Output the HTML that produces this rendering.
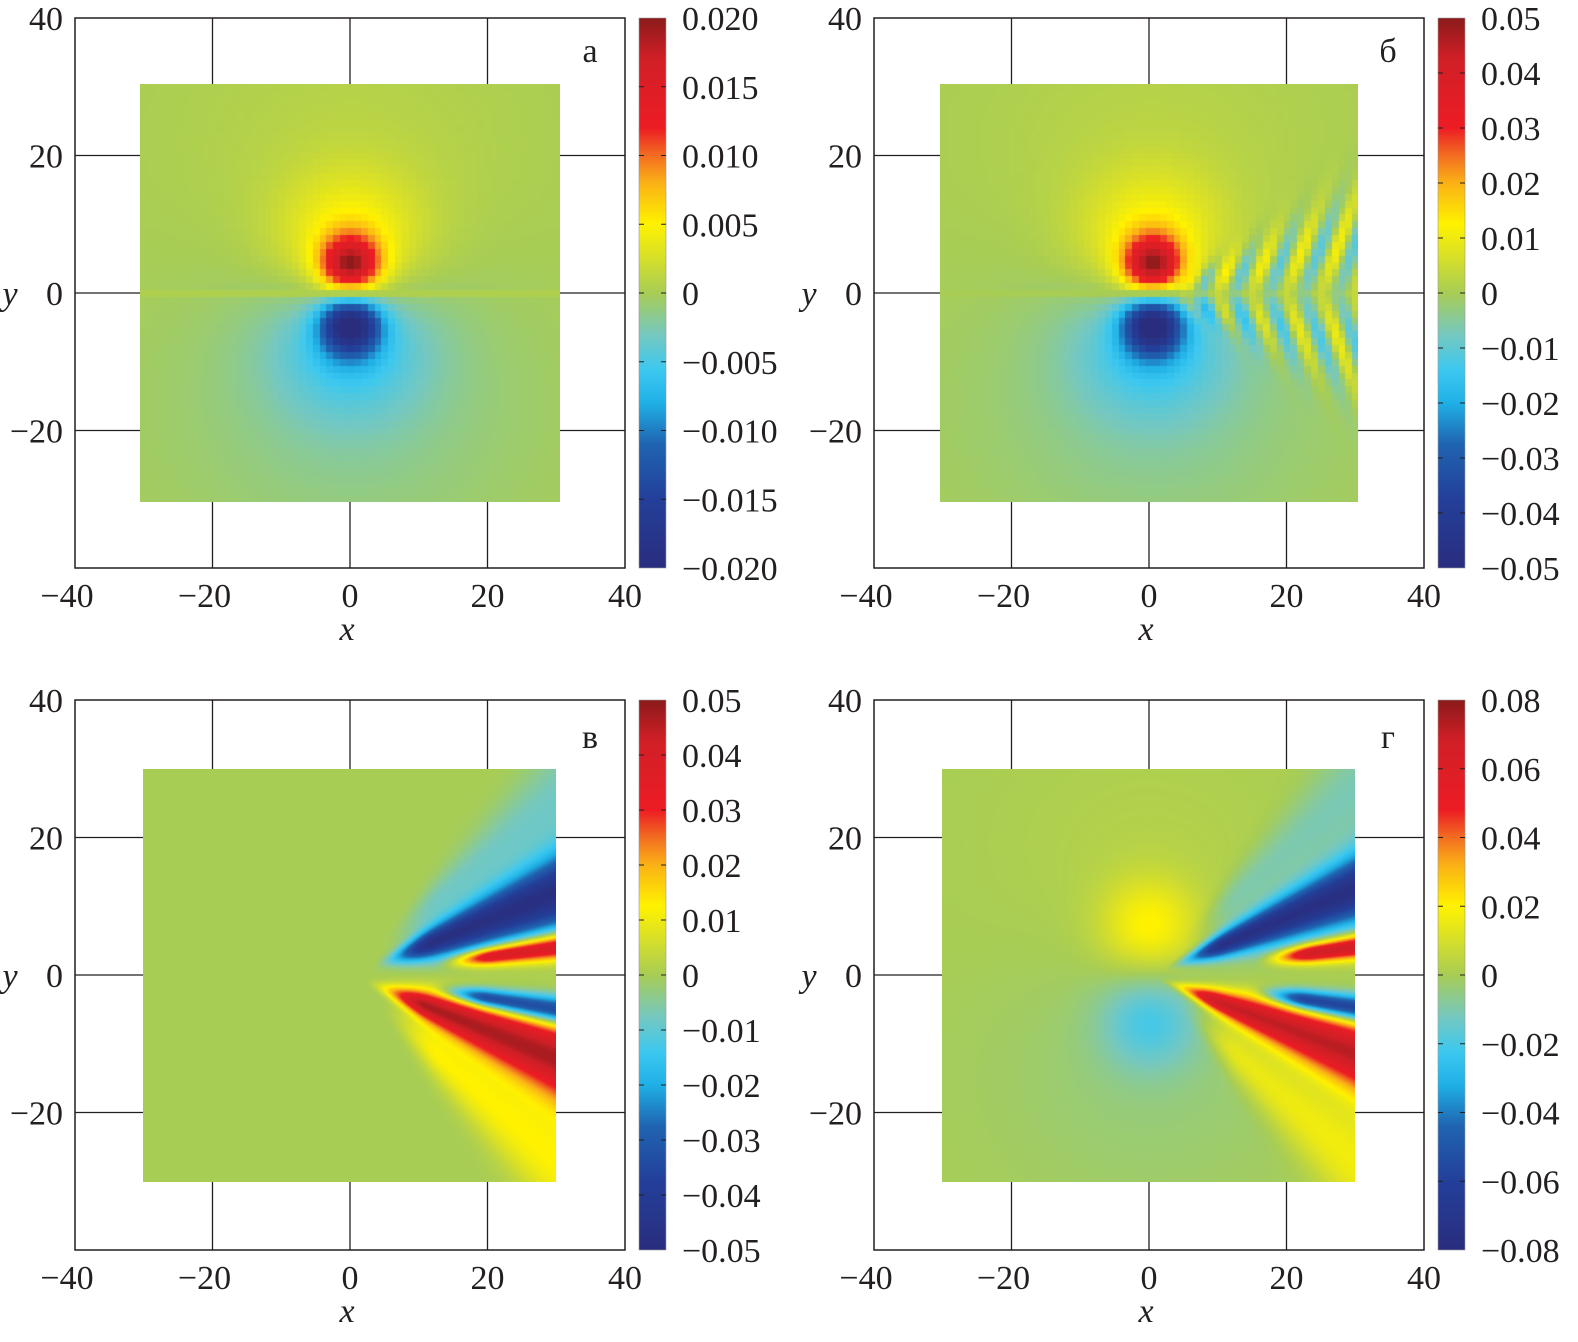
<!DOCTYPE html>
<html><head><meta charset="utf-8">
<style>
html,body{margin:0;padding:0;background:#fff;}
#wrap{position:relative;width:1578px;height:1342px;overflow:hidden;}
svg{position:absolute;left:0;top:0;}
canvas{position:absolute;}
text{font-family:"Liberation Serif","DejaVu Serif",serif;font-size:34px;fill:#231f20;}
</style></head><body>
<div id="wrap">
<svg id="svg" width="1578" height="1342"></svg>
</div>
<script>
// ---- data ----
const panelLetters = ["а","б","в","г"];
const axisTicks = [-40,-20,0,20,40];
const cbLabelsA = ["0.020","0.015","0.010","0.005","0","−0.005","−0.010","−0.015","−0.020"];
const cbLabelsB = ["0.05","0.04","0.03","0.02","0.01","0","−0.01","−0.02","−0.03","−0.04","−0.05"];
const cbLabelsC = ["0.05","0.04","0.03","0.02","0.01","0","−0.01","−0.02","−0.03","−0.04","−0.05"];
const cbLabelsD = ["0.08","0.06","0.04","0.02","0","−0.02","−0.04","−0.06","−0.08"];
// colormap stops (normalized value, color)
const cmapVals = [-1,-0.75,-0.55,-0.4,-0.28,-0.15,0,0.12,0.25,0.4,0.5,0.6,0.85,1];
const cmapCols = ["#2a2d7e","#233f99","#1f64b0","#1fb0e6","#3cc8f0","#76c8bf","#a8cd55","#d4de2c","#fff200","#fbb116","#f26d21","#ed1c24","#d11f26","#8b1a1a"];
// dipole blobs: x, y, sigma, amplitude
const dipoleA_x=[0,0,0,0,0,0], dipoleA_y=[4,-4.5,6,-6,10,-10], dipoleA_s=[3,3,7.5,8,18,18], dipoleA_a=[0.85,-0.9,0.32,-0.3,0.08,-0.12];
const dipoleB_x=[0.5,0.5,0.5,0.5,0.5,0.5], dipoleB_y=[4,-4.5,6,-6,10,-10], dipoleB_s=[3,3,7.5,8,18,18], dipoleB_a=[0.85,-0.9,0.32,-0.3,0.08,-0.12];
const dipoleD_x=[0,0,0,0], dipoleD_y=[7,-6.5,8,-8], dipoleD_s=[5,5,16,16], dipoleD_a=[0.25,-0.22,0.06,-0.08];
// wake lobes: slope centre (y/x), width, amplitude, start x
const lobesC_t=[0.4,0.14,-0.4,-0.17,0.85,-0.9], lobesC_w=[0.19,0.065,0.2,0.07,0.28,0.3], lobesC_a=[-0.95,0.9,0.92,-0.9,-0.16,0.25], lobesC_x0=[3,12,2,11,4,4];
const lobesD_t=[0.42,0.14,-0.38,-0.16,0.9,-0.9], lobesD_w=[0.17,0.06,0.18,0.065,0.3,0.3], lobesD_a=[-0.95,0.9,0.9,-0.9,-0.14,0.22], lobesD_x0=[2,15,1,14,4,4];
// ship wave in panel b: wavelength, amplitude, slant
const waveB = {lambda:5, amp:0.22, slant:0.35, tc:0.25, tw:0.25};

function hex(c){return [parseInt(c.substr(1,2),16),parseInt(c.substr(3,2),16),parseInt(c.substr(5,2),16)];}
const cmapRGB = cmapCols.map(hex);
function cmap(v){
  v=Math.max(-1,Math.min(1,v));
  for(let i=0;i<cmapVals.length-1;i++){
    if(v<=cmapVals[i+1]){
      const t=(v-cmapVals[i])/(cmapVals[i+1]-cmapVals[i]);
      const a=cmapRGB[i],b=cmapRGB[i+1];
      return [a[0]+(b[0]-a[0])*t,a[1]+(b[1]-a[1])*t,a[2]+(b[2]-a[2])*t];
    }
  }
  return cmapRGB[cmapRGB.length-1];
}
function blobs(x,y,X,Y,S,A){let s=0;for(let i=0;i<X.length;i++){const dx=x-X[i],dy=y-Y[i];s+=A[i]*Math.exp(-(dx*dx+dy*dy)/(2*S[i]*S[i]));}return s;}
function lobes(x,y,T,W,A,X0){
  if(x<=0.5) return 0;
  const t=y/x; let s=0;
  for(let i=0;i<T.length;i++){
    let r=(x-X0[i])/9; r=Math.max(0,Math.min(1,r)); r=r*r*(3-2*r);
    const d=(t-T[i])/W[i];
    s+=A[i]*r*Math.exp(-d*d);
  }
  return s;
}
const fields=[
  (x,y)=>y>-0.5&&y<0.5?0.02:blobs(x,y,dipoleA_x,dipoleA_y,dipoleA_s,dipoleA_a),
  (x,y)=>{let s=(y>-0.5&&y<0.5)?0:blobs(x,y,dipoleB_x,dipoleB_y,dipoleB_s,dipoleB_a);
    if(x>3){const t=Math.abs(y)/x;let r=Math.min(1,(x-3)/5);const d=(t-waveB.tc)/waveB.tw;
      s+=waveB.amp*r*Math.exp(-d*d)*Math.cos(2*Math.PI*(x-waveB.slant*Math.abs(y))/waveB.lambda);}
    return s;},
  (x,y)=>lobes(x,y,lobesC_t,lobesC_w,lobesC_a,lobesC_x0),
  (x,y)=>blobs(x,y,dipoleD_x,dipoleD_y,dipoleD_s,dipoleD_a)+lobes(x,y,lobesD_t,lobesD_w,lobesD_a,lobesD_x0)
];
const panels=[
  {L:75,T:18,hm:[140,84,560,502],cell:1,cb:cbLabelsA,lx:590,ly:62},
  {L:874,T:18,hm:[940,84,1358,502],cell:1,cb:cbLabelsB,lx:1388,ly:62},
  {L:75,T:700,hm:[143,769,556,1182],cell:0.2,cb:cbLabelsC,lx:590,ly:748,small:true},
  {L:874,T:700,hm:[942,769,1355,1182],cell:0.2,cb:cbLabelsD,lx:1388,ly:748,small:true}
];
const svg=document.getElementById('svg');
const NS="http://www.w3.org/2000/svg";
function el(tag,attrs,parent){const e=document.createElementNS(NS,tag);for(const k in attrs)e.setAttribute(k,attrs[k]);(parent||svg).appendChild(e);return e;}
const defs=el('defs',{});
const grad=el('linearGradient',{id:'cbg',x1:0,y1:1,x2:0,y2:0},defs);
cmapVals.forEach((v,i)=>el('stop',{offset:((v+1)/2),'stop-color':cmapCols[i]},grad));

const S=550, U=S/80;
panels.forEach((p,pi)=>{
  const g=el('g',{});
  
  
  const X=v=>p.L+(v+40)*U, Y=v=>p.T+(40-v)*U;
  [-20,0,20].forEach(v=>{
    const l1=el('line',{x1:X(v),y1:p.T,x2:X(v),y2:p.T+S,stroke:'#231f20','stroke-width':1.3},g);
    
    const l2=el('line',{x1:p.L,y1:Y(v),x2:p.L+S,y2:Y(v),stroke:'#231f20','stroke-width':1.3},g);
    
  });
  const fr=el('rect',{x:p.L,y:p.T,width:S,height:S,fill:'none',stroke:'#231f20','stroke-width':1.5},g);
  
  axisTicks.forEach(v=>{
    const t=el('text',{x:X(v)-(v<0?8:0),y:p.T+S+39,'text-anchor':'middle'},g);
    t.textContent=v<0?'−'+(-v):String(v);
    
    if(v>-40){
      const t2=el('text',{x:p.L-12,y:Y(v)+12,'text-anchor':'end'},g);
      t2.textContent=v<0?'−'+(-v):String(v);
      
    }
  });
  const xl=el('text',{x:X(0)-3,y:p.T+S+72,'text-anchor':'middle','font-style':'italic'},g);xl.textContent='x';
  
  const yl=el('text',{x:p.L-65,y:Y(0)+12,'text-anchor':'middle','font-style':'italic'},g);yl.textContent='y';
  
  const lt=el('text',{x:p.lx,y:p.ly,'text-anchor':'middle','font-size':p.small?26:32},g);lt.textContent=panelLetters[pi];
  
  const cx=p.L+S+14, cw=27;
  const cr=el('rect',{x:cx,y:p.T,width:cw,height:S,fill:'url(#cbg)',stroke:'#999','stroke-width':0.6},g);
  
  const n=p.cb.length;
  p.cb.forEach((lab,i)=>{
    const yy=p.T+S*i/(n-1);
    if(i>0&&i<n-1){
      el('line',{x1:cx,y1:yy,x2:cx+5,y2:yy,stroke:'#231f20','stroke-width':1},g);
      el('line',{x1:cx+cw-5,y1:yy,x2:cx+cw,y2:yy,stroke:'#231f20','stroke-width':1},g);
    }
    const t=el('text',{x:cx+cw+16,y:yy+12},g);t.textContent=lab;
    
  });
  const [x0,y0,x1,y1]=p.hm, W=x1-x0, H=y1-y0;
  const cv=document.createElement('canvas');cv.width=W;cv.height=H;
  cv.style.left=x0+'px';cv.style.top=y0+'px';
  
  
  document.getElementById('wrap').appendChild(cv);
  const ctx=cv.getContext('2d');const img=ctx.createImageData(W,H);
  const cx0=p.L+S/2, cy0=p.T+S/2;
  for(let j=0;j<H;j++)for(let i=0;i<W;i++){
    let dx=(x0+i-cx0)/U, dy=(cy0-(y0+j))/U;
    if(p.cell>=1){dx=Math.round(dx);dy=Math.round(dy);}
    const c=cmap(fields[pi](dx,dy));
    const k=(j*W+i)*4;img.data[k]=c[0];img.data[k+1]=c[1];img.data[k+2]=c[2];img.data[k+3]=255;
  }
  ctx.putImageData(img,0,0);
});
</script>
</body></html>
